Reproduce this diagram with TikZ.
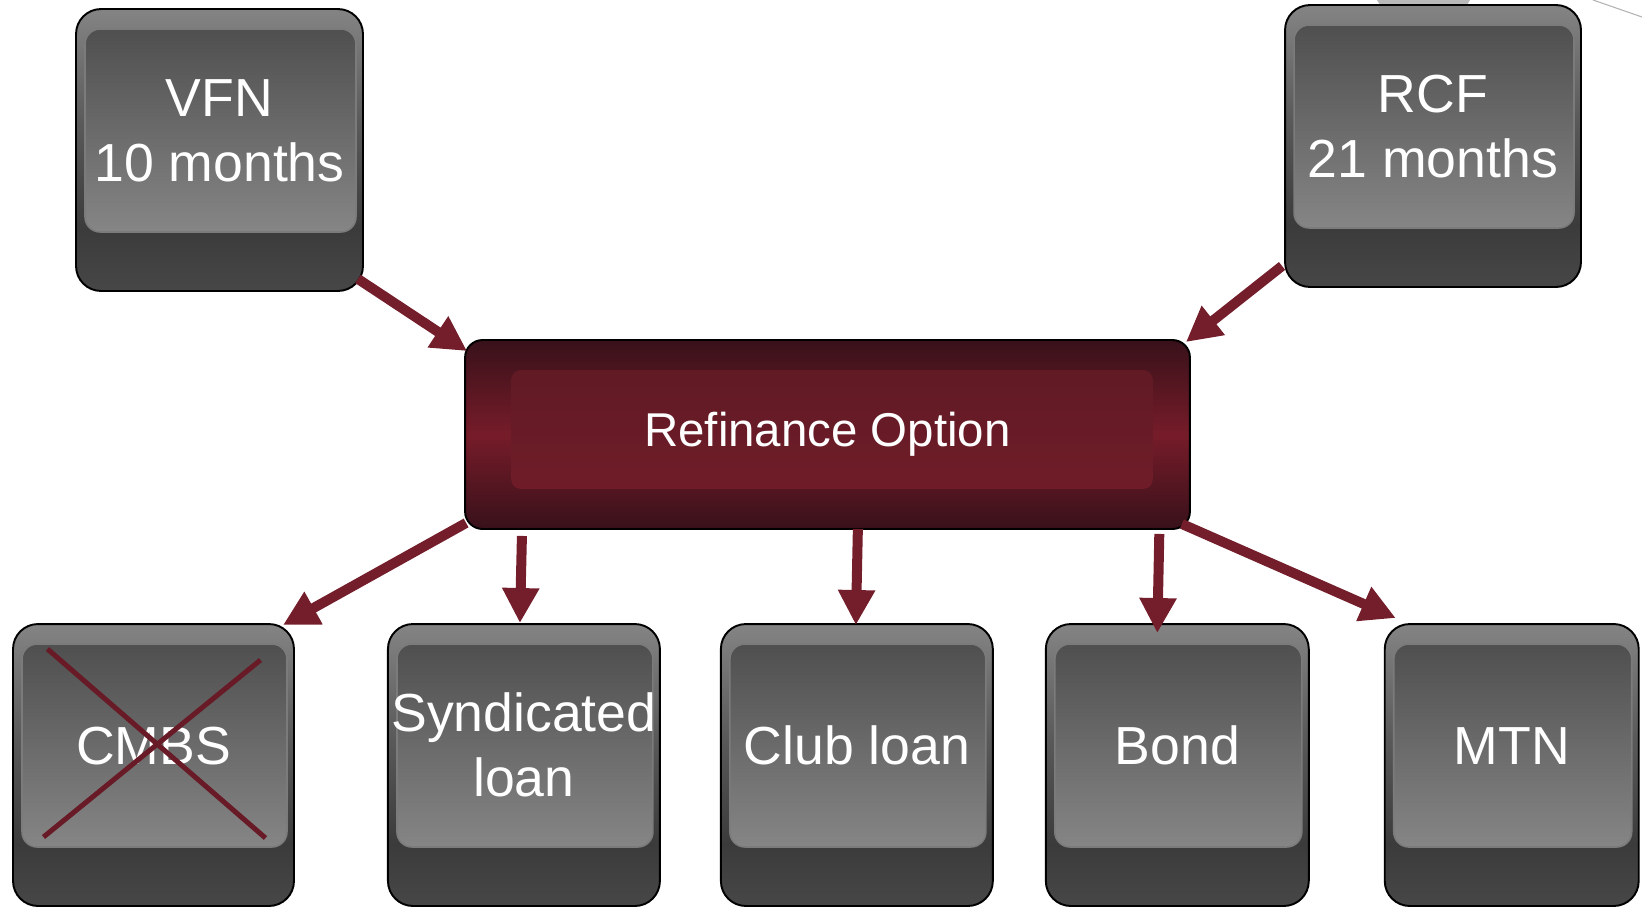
\documentclass[tikz,border=0pt]{standalone}
\usepackage{fontspec}
\setmainfont{Liberation Sans}
\usepackage{xcolor}
\usepackage{tikz}
\usetikzlibrary{arrows.meta,positioning,calc}
\definecolor{shellhi}{HTML}{848484}
\definecolor{shellmid}{HTML}{5A5A5A}
\definecolor{shelllo}{HTML}{3B3B3B}
\definecolor{shellfoot}{HTML}{474747}
\definecolor{facetop}{HTML}{4A4A4A}
\definecolor{facebot}{HTML}{959595}
\definecolor{faceedge}{HTML}{7B7B7B}
\definecolor{refidark}{HTML}{38111A}
\definecolor{refimid}{HTML}{761C29}
\definecolor{refifacetop}{HTML}{5D1A23}
\definecolor{refifacebot}{HTML}{741D2A}
\definecolor{arrowred}{HTML}{741E2C}
\definecolor{crossred}{HTML}{681A26}
\pgfdeclareverticalshading{tileshell}{100bp}{color(0bp)=(shellfoot); color(25bp)=(shellfoot); color(36bp)=(shelllo); color(55bp)=(shellmid); color(75bp)=(shellhi); color(100bp)=(shellhi)}
\newcommand{\facetext}[1]{\raisebox{0.28cm}[\height][\depth]{\begin{tabular}{@{}c@{}}#1\end{tabular}}}

\begin{document}
\begin{tikzpicture}[
  x=0.02cm, y=-0.02cm,
  tile/.style={draw=black, line width=1.1pt, rounded corners=0.5cm, shading=tileshell,
    minimum height=5.64cm, inner sep=0pt, outer sep=0pt, text=white, font=\fontsize{30.5pt}{37pt}\selectfont,
    path picture={\shade[top color=facetop, bottom color=facebot, draw=faceedge, line width=0.9pt, rounded corners=0.3cm]
      ($(path picture bounding box.north west)+(9,20)$) rectangle ($(path picture bounding box.south east)+(-7,-59)$);}},
  refi/.style={draw=black, line width=1.1pt, rounded corners=0.35cm,
    top color=refidark, bottom color=refidark, middle color=refimid,
    minimum width=14.5cm, minimum height=3.78cm, text=white, font=\fontsize{27pt}{32pt}\selectfont,
    path picture={\shade[top color=refifacetop, bottom color=refifacebot, rounded corners=0.2cm]
      ($(path picture bounding box.north west)+(46,30)$) rectangle ($(path picture bounding box.south east)+(-37,-40)$);}},
  arr/.style={-{Triangle[length=0.7cm, width=0.7cm]}, line width=0.2cm, arrowred},
  cross/.style={crossred, line width=0.1cm}
]
\useasboundingbox (0,0) rectangle (1642,907);
\fill[gray!55] (1377,0) -- (1470,0) -- (1467,5) -- (1380,5) -- cycle;
\draw[gray!60, line width=0.6pt] (1593,0) -- (1642,17);

\node[tile, minimum width=5.74cm] (vfn) at (219.5,150) {\facetext{VFN\\10 months}};
\node[tile, minimum width=5.92cm] (rcf) at (1433,146) {\facetext{RCF\\21 months}};
\node[refi] (refi) at (827.5,434.5) {Refinance Option};
\node[tile, minimum width=5.62cm] (cmbs) at (153.5,765) {\facetext{CMBS}};
\node[tile, minimum width=5.44cm, right=1.88cm of cmbs] (synd) {\facetext{Syndicated\\loan}};
\node[tile, minimum width=5.44cm, right=1.22cm of synd] (club) {\facetext{Club loan}};
\node[tile, minimum width=5.26cm, right=1.06cm of club] (bond) {\facetext{Bond}};
\node[tile, minimum width=5.08cm, right=1.52cm of bond] (mtn) {\facetext{MTN}};

% CMBS is struck out
\draw[cross] ([shift={(-106,-116)}]cmbs.center) -- ([shift={(112,73)}]cmbs.center);
\draw[cross] ([shift={(107,-105)}]cmbs.center) -- ([shift={(-110,72)}]cmbs.center);

\draw[arr] ([shift={(-5,-12)}]vfn.south east) -- ([shift={(3,12)}]refi.north west);
\draw[arr] ([shift={(-3,-21)}]rcf.south west) -- ([shift={(-5,3)}]refi.north east);
\draw[arr] ([shift={(2,-7)}]refi.south west) -- ([shift={(-11,1)}]cmbs.north east);
\draw[arr] ($(refi.south -| synd.north)+(-2,6)$) -- ([shift={(-4,-1)}]synd.north);
\draw[arr] ($(refi.south -| club.north)+(1,-1)$) -- ([shift={(-1,1)}]club.north);
\draw[arr] ($(refi.south -| bond.north)+(-18,4)$) -- ([shift={(-20,9)}]bond.north);
\draw[arr] ([shift={(-9,-6)}]refi.south east) -- ([shift={(11,-6)}]mtn.north west);
\end{tikzpicture}
\end{document}
